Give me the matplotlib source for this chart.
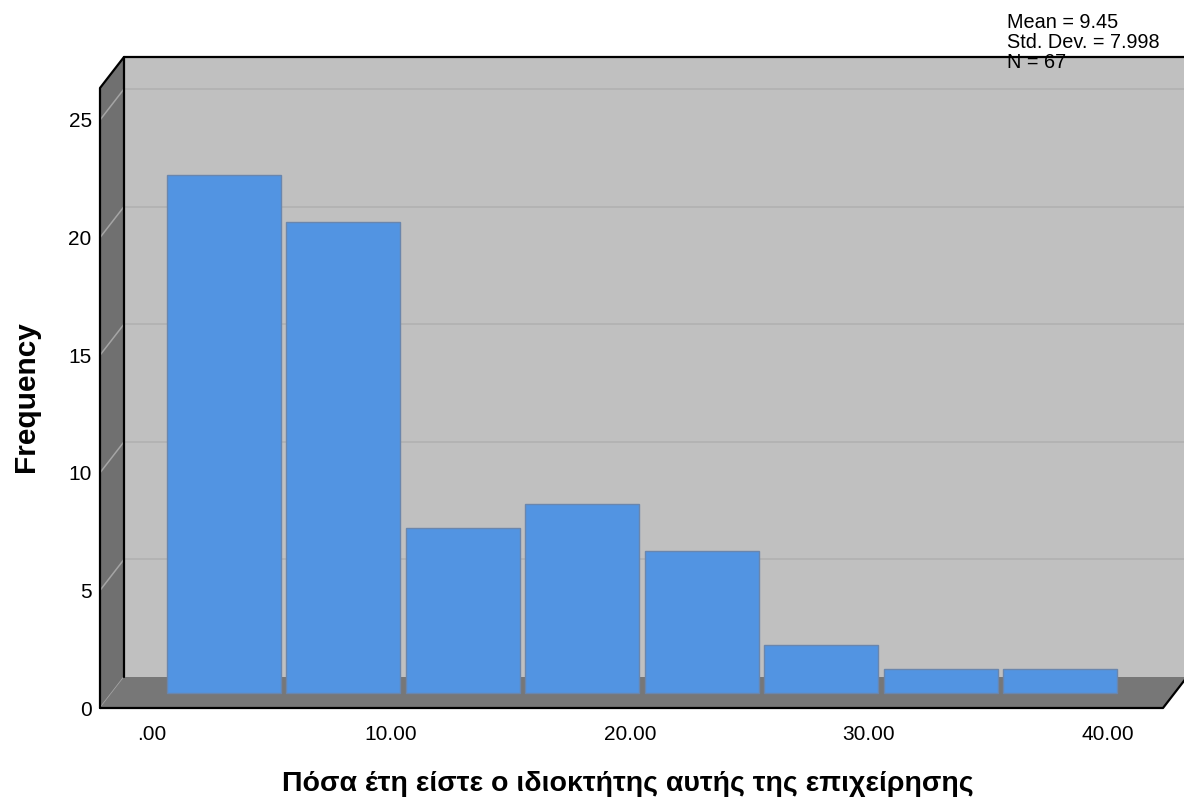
import matplotlib

matplotlib.use("Agg")
import matplotlib.pyplot as plt
from matplotlib.patches import Polygon, Rectangle

plt.rcParams["font.family"] = ["Liberation Sans", "DejaVu Sans"]

# histogram of years of ownership, bins of width 5
bin_edges = [0, 5, 10, 15, 20, 25, 30, 35, 40]
counts = [22, 20, 7, 8, 6, 2, 1, 1]
y_ticks = [0, 5, 10, 15, 20, 25]
x_ticks = [0, 10, 20, 30, 40]
x_tick_labels = [".00", "10.00", "20.00", "30.00", "40.00"]
stats_lines = ["Mean = 9.45", "Std. Dev. = 7.998", "N = 67"]
x_label = "Πόσα έτη είστε ο ιδιοκτήτης αυτής της επιχείρησης"
y_label = "Frequency"

W, H = 1184, 805
fig = plt.figure(figsize=(W / 100, H / 100), dpi=100)

# front plane of the 3-D box, in figure pixels
left_px, right_px, bottom_px, top_px = 100, 1163, 708, 88
ax = fig.add_axes([left_px / W, 1 - bottom_px / H,
                   (right_px - left_px) / W, (bottom_px - top_px) / H])
xmin, xmax = -2.176, 42.30
ymin, ymax = 0.0, 26.36
ax.set_xlim(xmin, xmax)
ax.set_ylim(ymin, ymax)
ax.patch.set_visible(False)
for s in ax.spines.values():
    s.set_visible(False)

# depth of the box in data units (24 px across, 31 px up)
px_x = (right_px - left_px) / (xmax - xmin)
px_y = (bottom_px - top_px) / (ymax - ymin)
dx = 24 / px_x
dy = 31 / px_y

wall_c = "#c0c0c0"
side_c = "#707070"
floor_c = "#777777"
edge_k = dict(color="black", lw=1.6, clip_on=False, solid_capstyle="round")

# back wall
ax.add_patch(Rectangle((xmin + dx, dy), xmax - xmin + 2, ymax, facecolor=wall_c,
                       edgecolor="none", clip_on=False, zorder=1))
# left side wall
ax.add_patch(Polygon([(xmin, 0), (xmin + dx, dy), (xmin + dx, ymax + dy), (xmin, ymax)],
                     facecolor=side_c, edgecolor="none", clip_on=False, zorder=1))
# floor
ax.add_patch(Polygon([(xmin, 0), (xmax, 0), (xmax + dx, dy), (xmin + dx, dy)],
                     facecolor=floor_c, edgecolor="none", clip_on=False, zorder=2))

# grid lines on the back wall and across the side wall
for yv in y_ticks:
    if yv > 0:
        ax.plot([xmin + dx, xmax + dx + 2], [yv + dy, yv + dy], color="#b3b3b3",
                lw=1.4, clip_on=False, zorder=1.5)
    ax.plot([xmin, xmin + dx], [yv, yv + dy], color="#a5a5a5", lw=1.1,
            clip_on=False, zorder=1.5)

# box outline
ax.plot([xmin, xmin, xmin + dx, xmax + dx + 2], [0, ymax, ymax + dy, ymax + dy], **edge_k, zorder=3)
ax.plot([xmin + dx, xmin + dx], [dy, ymax + dy], **edge_k, zorder=3)
ax.plot([xmin, xmax, xmax + dx], [0, 0, dy], **edge_k, zorder=3)

# bars stand half-way back on the floor
gap = 0.11
for lo, hi, c in zip(bin_edges[:-1], bin_edges[1:], counts):
    ax.add_patch(Rectangle((lo + gap + dx / 2, dy / 2), hi - lo - 2 * gap, c,
                           facecolor="#5294e2", edgecolor="#6a86ad", lw=1.0,
                           clip_on=False, zorder=4))

ax.set_yticks(y_ticks)
ax.set_yticklabels([str(v) for v in y_ticks])
ax.set_xticks(x_ticks)
ax.set_xticklabels(x_tick_labels)
ax.tick_params(axis="both", length=0, labelsize=15, colors="black")
ax.tick_params(axis="y", pad=6)
ax.tick_params(axis="x", pad=12)

fig.text(26 / W, 1 - 397 / H, y_label, rotation=90, fontsize=21.5, fontweight="bold",
         ha="center", va="center")
fig.text(628 / W, 1 - 784 / H, x_label, fontsize=20.5, fontweight="bold",
         ha="center", va="center")

for i, line in enumerate(stats_lines):
    fig.text(1007 / W, 1 - (22 + 20 * i) / H, line, fontsize=14.3,
             ha="left", va="center", zorder=10)

fig.savefig("out.png", dpi=100)
